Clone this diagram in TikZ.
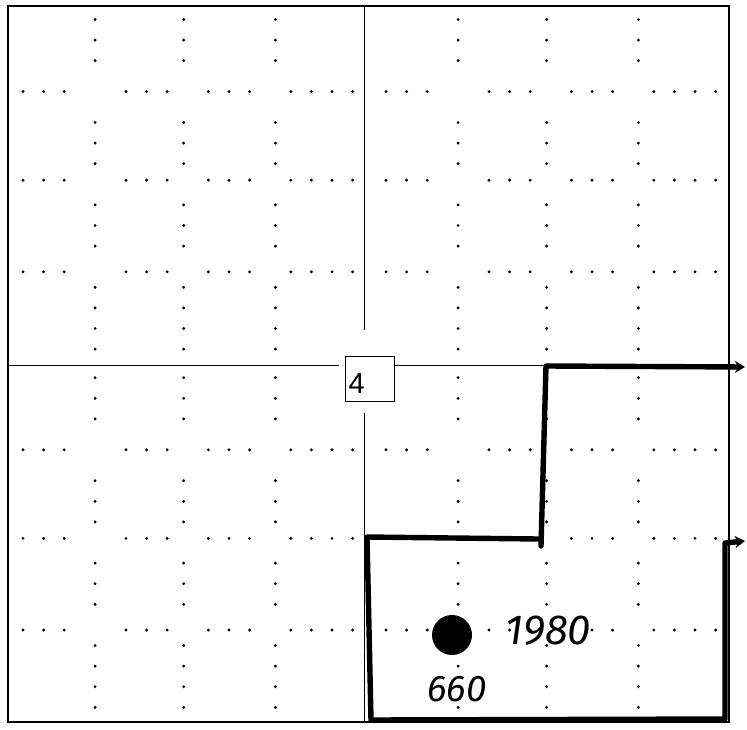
\documentclass[tikz,border=0pt]{standalone}
\usepackage{fontspec}
\newfontfamily\tagfont{Liberation Sans}
\newfontfamily\handfont{Fira Sans}
\usetikzlibrary{arrows.meta,positioning,calc}

\begin{document}
\begin{tikzpicture}[
  x=1pt,y=-1pt,
  frameline/.style={draw=black,line width=1.2pt},
  axisline/.style={draw=black,line width=0.9pt},
  gridpt/.style={fill=black},
  tag/.style={
    draw=black,
    line width=1.2pt,
    anchor=north west,
    inner xsep=3pt,
    inner ysep=0pt,
    text width=43pt,
    text height=37pt,
    text depth=8pt,
    align=left,
    font=\tagfont\fontsize{29}{29}\selectfont
  },
  site/.style={circle,fill=black,minimum size=40pt,inner sep=0pt},
  script/.style={inner sep=0pt,font=\handfont\itshape\fontsize{42}{42}\selectfont},
  hand/.style={draw=black,line width=5.4pt,line cap=round,line join=round},
  handflow/.style={hand,-{Stealth[length=10pt,width=12pt]}}
]
  \useasboundingbox (0,0) rectangle (747,730);
  \fill[white] (0,0) rectangle (747,730);

  \coordinate (axL) at (8,365);
  \coordinate (axR) at (729,365);
  \coordinate (axT) at (364,6);
  \coordinate (axB) at (364,722);

  \foreach \ox/\oy in {23/19.5,386/19.5,23/377.7,386/377.7}
    \foreach \g in {3.5,7.8,12.25}
      \foreach \k in {0,1,2,5,6,7,9,10,11,13,14,15,16} {
        \fill[gridpt] (\ox+\k*20.6,\oy+\g*20.6) circle[radius=1.6];
        \fill[gridpt] (\ox+\g*20.6,\oy+\k*20.6) circle[radius=1.6];
      }

  \draw[frameline] (8,6) rectangle (729,722);

  \node[tag] (quad) at (345,356) {4};

  \draw[axisline,shorten >=6pt] (axL) -- (axL -| quad.west);
  \draw[axisline] (quad.east |- axR) -- (axR);
  \draw[axisline,shorten >=26pt] (axT) -- (axT |- quad.north);
  \draw[axisline,shorten <=11pt] (axB |- quad.south) -- (axB);

  \coordinate (stepfoot) at (541,546);
  \coordinate (stepknee) at (546,366);
  \coordinate (stepexit) at (745,367);
  \coordinate (boxjoin) at (538,539);
  \coordinate (boxtl) at (367,537);
  \coordinate (boxbl) at (371,720);
  \coordinate (boxbr) at (725,719);
  \coordinate (boxtr) at (725,543);
  \coordinate (boxexit) at (745,541);

  \draw[handflow] (stepfoot) -- (stepknee) -- (stepexit);
  \draw[handflow] (boxjoin) -- (boxtl) -- (boxbl) -- (boxbr) -- (boxtr) -- (boxexit);

  \node[site] (well) at (452,635) {};
  \node[script,right=33pt of well,yshift=4pt] (output) {1980};
  \node[script,below=21pt of well,xshift=5pt,font=\handfont\itshape\fontsize{37}{37}\selectfont] (depth) {660};
\end{tikzpicture}
\end{document}
